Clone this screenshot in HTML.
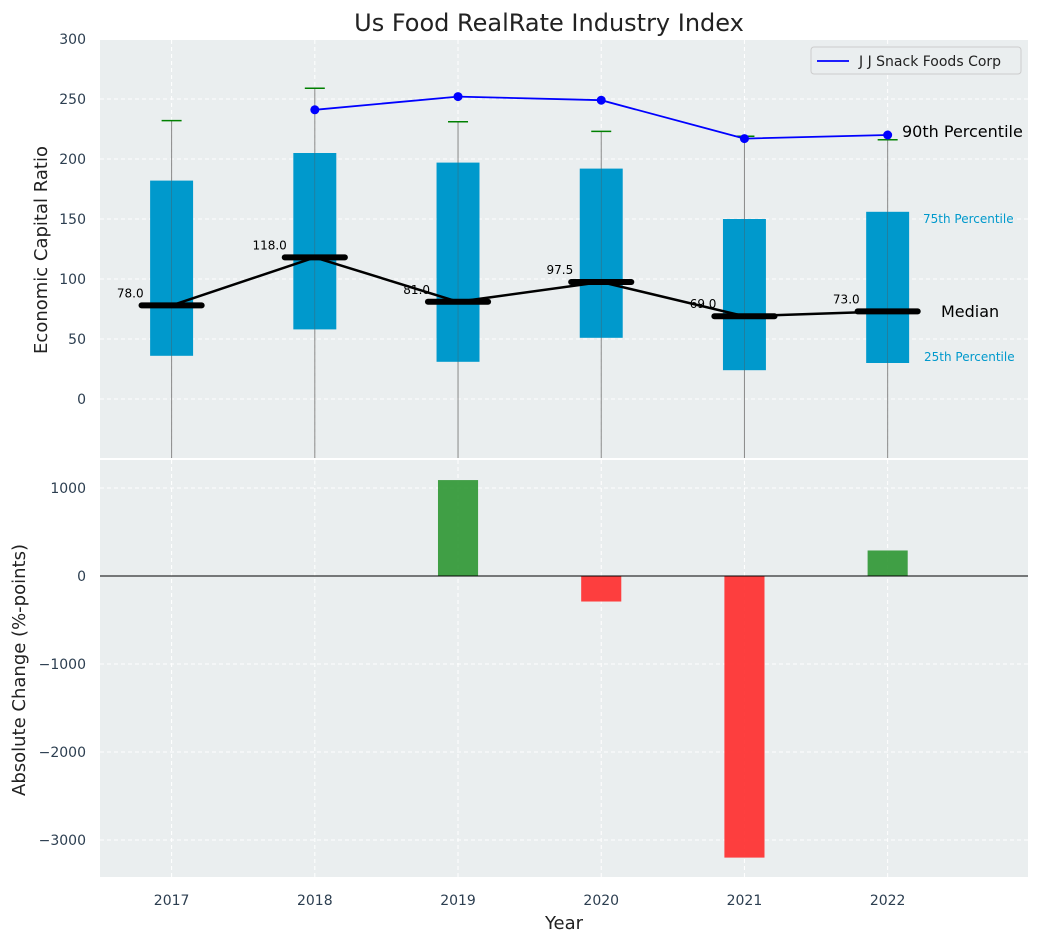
<!DOCTYPE html>
<html><head><meta charset="utf-8"><style>
body{margin:0;background:#fff;font-family:"Liberation Sans","DejaVu Sans",sans-serif}
svg text{font-family:"DejaVu Sans","Liberation Sans",sans-serif}
</style></head><body>
<svg id="chart" width="1039" height="942" xmlns="http://www.w3.org/2000/svg"></svg>
<script>
const years=[2017,2018,2019,2020,2021,2022];
const q1=[36,58,31,51,24,30];
const q3=[182,205,197,192,150,156];
const whiskTop=[232,259,231,223,219,216];
const whiskBot=[-60,-60,-60,-60,-60,-60];
const medians=[78,118,81,97.5,69,73];
const p90Years=[2018,2019,2020,2021,2022];
const p90=[241,252,249,217,220];
const changes=[null,null,1090,-290,-3200,290];
const topTicks=[0,50,100,150,200,250,300];
const botTicks=[-3000,-2000,-1000,0,1000];
const NS="http://www.w3.org/2000/svg";
const svg=document.getElementById('chart');
function el(t,a,p){const e=document.createElementNS(NS,t);for(const k in a)e.setAttribute(k,a[k]);(p||svg).appendChild(e);return e;}
const L=100,R=1028,T1=40,B1=458,T2=460,B2=877;
const x=v=>L+(v-2016.5)/(2022.98-2016.5)*(R-L);
const y1=v=>399-v*1.2;
const y2=v=>576-v*0.088;
// backgrounds
let r=el('rect',{x:L,y:T1,width:R-L,height:B1-T1,fill:'#eaeeef'});

r=el('rect',{x:L,y:T2,width:R-L,height:B2-T2,fill:'#eaeeef'});

// grids
years.forEach(v=>{el('line',{x1:x(v),x2:x(v),y1:T1,y2:B1,stroke:'#fff','stroke-dasharray':'4,3'});el('line',{x1:x(v),x2:x(v),y1:T2,y2:B2,stroke:'#fff','stroke-dasharray':'4,3'});
 const t=el('text',{x:x(v),y:905,'text-anchor':'middle','font-size':14,fill:'#2c3e50'});t.textContent=v;
 });
topTicks.forEach(v=>{el('line',{x1:L,x2:R,y1:y1(v),y2:y1(v),stroke:'#fff','stroke-dasharray':'4,3'});
 const t=el('text',{x:86,y:y1(v)+5,'text-anchor':'end','font-size':14,fill:'#2c3e50'});t.textContent=v;
 });
botTicks.forEach(v=>{el('line',{x1:L,x2:R,y1:y2(v),y2:y2(v),stroke:'#fff','stroke-dasharray':'4,3'});
 const t=el('text',{x:86,y:y2(v)+5,'text-anchor':'end','font-size':14,fill:'#2c3e50'});t.textContent=v<0?'\u2212'+(-v):v;
 });
// boxes
const bw=0.3*(x(1)-x(0));
years.forEach((v,i)=>{
 el('line',{x1:x(v),x2:x(v),y1:y1(whiskTop[i]),y2:Math.min(B1,y1(whiskBot[i])),stroke:'#888','stroke-width':1});
 el('line',{x1:x(v)-10,x2:x(v)+10,y1:y1(whiskTop[i]),y2:y1(whiskTop[i]),stroke:'green','stroke-width':1.5});
 const b=el('rect',{x:x(v)-bw/2,y:y1(q3[i]),width:bw,height:y1(q1[i])-y1(q3[i]),fill:'#0099cc'});
 
 el('line',{x1:x(v),x2:x(v),y1:y1(q3[i]),y2:y1(q1[i]),stroke:'#555','stroke-width':0.6,opacity:0.6});
});
// median line
el('polyline',{points:years.map((v,i)=>x(v)+','+y1(medians[i])).join(' '),fill:'none',stroke:'#000','stroke-width':2.5});
const mw=0.42*(x(1)-x(0));
years.forEach((v,i)=>{
 const m=el('line',{x1:x(v)-mw/2,x2:x(v)+mw/2,y1:y1(medians[i]),y2:y1(medians[i]),stroke:'#000','stroke-width':6,'stroke-linecap':'round'});
 
 const t=el('text',{x:x(v)-28,y:y1(medians[i])-8,'text-anchor':'end','font-size':12,fill:'#000'});t.textContent=medians[i].toFixed(1);
 
});
// 90th line
const pl=el('polyline',{points:p90Years.map((v,i)=>x(v)+','+y1(p90[i])).join(' '),fill:'none',stroke:'blue','stroke-width':1.8});

p90Years.forEach((v,i)=>el('circle',{cx:x(v),cy:y1(p90[i]),r:4.5,fill:'blue'}));
// annotations
[['90th Percentile',902,137,16,'#000'],['75th Percentile',923,223,12,'#0099cc'],['Median',941,317,16,'#000'],['25th Percentile',924,361,12,'#0099cc']].forEach(a=>{
 const t=el('text',{x:a[1],y:a[2],'font-size':a[3],fill:a[4]});t.textContent=a[0];
 });
// legend
const lg=el('g',{});
el('rect',{x:811,y:47,width:210,height:27,rx:3,fill:'#eaeeef',stroke:'#ccc'},lg);
el('line',{x1:817,x2:849,y1:61,y2:61,stroke:'blue','stroke-width':1.8},lg);
let lt=el('text',{x:859,y:66,'font-size':14,fill:'#222'},lg);lt.textContent='J J Snack Foods Corp';
// bars
const barW=0.28*(x(1)-x(0));
years.forEach((v,i)=>{if(changes[i]==null)return;
 const c=changes[i];const b=el('rect',{x:x(v)-barW/2,y:Math.min(y2(c),y2(0)),width:barW,height:Math.abs(y2(c)-y2(0)),fill:c>=0?'#2e9632':'#ff2a2a',opacity:0.9});
 });
el('line',{x1:L,x2:R,y1:y2(0),y2:y2(0),stroke:'#000','stroke-width':1});
// titles
let t=el('text',{x:549,y:31,'text-anchor':'middle','font-size':24,fill:'#222'});t.textContent='Us Food RealRate Industry Index';

t=el('text',{x:47,y:250,'text-anchor':'middle','font-size':18,fill:'#222',transform:'rotate(-90 47 250)'});t.textContent='Economic Capital Ratio';

t=el('text',{x:25,y:670,'text-anchor':'middle','font-size':18,fill:'#222',transform:'rotate(-90 25 670)'});t.textContent='Absolute Change (%-points)';

t=el('text',{x:564,y:929,'text-anchor':'middle','font-size':18,fill:'#222'});t.textContent='Year';

</script>
</body></html>
